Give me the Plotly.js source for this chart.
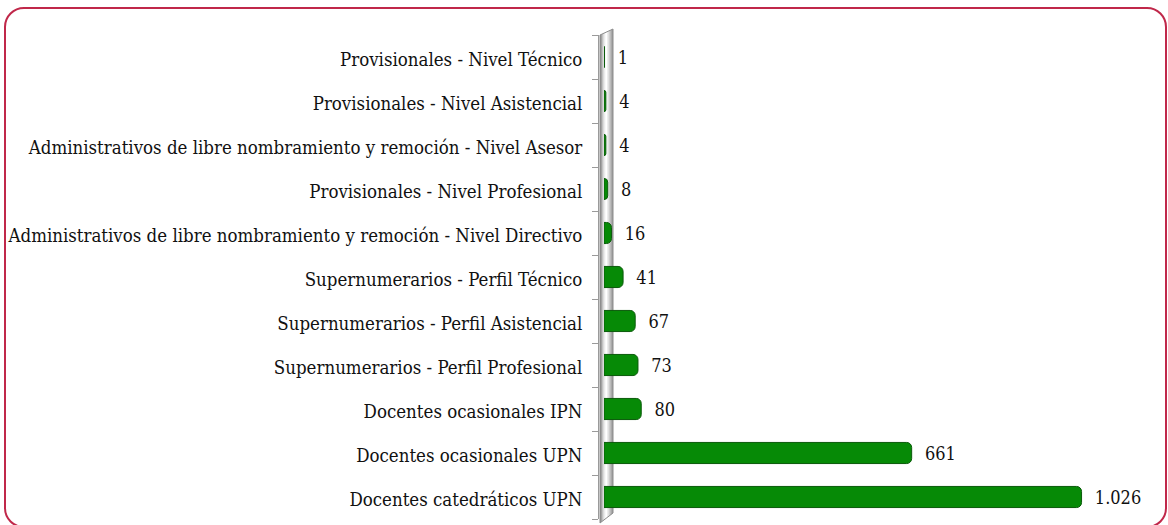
<!DOCTYPE html>
<html><head><meta charset="utf-8">
<script src="https://cdn.plot.ly/plotly-3.0.1.min.js"></script>
<style>
html,body{margin:0;padding:0;background:#fff;}
#wrap{position:relative;width:1168px;height:525px;overflow:hidden;}
#chart{position:absolute;left:0;top:0;width:1168px;height:525px;}
#frame{position:absolute;left:4px;top:7px;width:1159px;height:517px;border:2px solid #c0284a;border-radius:20px;pointer-events:none;}
</style></head>
<body><div id="wrap"><div id="chart"></div><div id="frame"></div></div>
<script>
const categories = [
  "Docentes catedráticos UPN",
  "Docentes ocasionales UPN",
  "Docentes ocasionales IPN",
  "Supernumerarios - Perfil Profesional",
  "Supernumerarios - Perfil Asistencial",
  "Supernumerarios - Perfil Técnico",
  "Administrativos de libre nombramiento y remoción - Nivel Directivo",
  "Provisionales - Nivel Profesional",
  "Administrativos de libre nombramiento y remoción - Nivel Asesor",
  "Provisionales - Nivel Asistencial",
  "Provisionales - Nivel Técnico"
];
const values = [1026, 661, 80, 73, 67, 41, 16, 8, 4, 4, 1];

const W = 1168, H = 525;
const L = 598, R = 52, T = 35, B = 6;
const pw = W - L - R, ph = H - T - B;
const px = v => v / pw, py = v => v / ph;
const FONT = '"DejaVu Serif Condensed", "DejaVu Serif", serif';

// 3D wall strips (decoration)
const wallShades = ['#8e8e8e','#c2c2c2','#ececec','#ffffff','#e0e0e0','#bcbcbc','#9c9c9c'];
const shapes = [];
const wx0 = 2, wx1 = 15, n = wallShades.length;
for (let i = 0; i < n; i++) {
  const a = wx0 + (wx1 - wx0) * i / n, b = wx0 + (wx1 - wx0) * (i + 1) / n;
  const sl = 6 / (wx1 - wx0);
  const ta = (a - wx0) * sl, tb = (b - wx0) * sl;
  const ba = -4 + (a - wx0) * (10 / 13), bb = -4 + (b - wx0) * (10 / 13);
  shapes.push({type:'path', xref:'paper', yref:'paper', layer:'below',
    path:`M ${px(a)} ${1+py(ta)} L ${px(b)} ${1+py(tb)} L ${px(b)} ${py(bb)} L ${px(a)} ${py(ba)} Z`,
    fillcolor: wallShades[i], line:{width:0}});
}
shapes.push({type:'path', xref:'paper', yref:'paper', layer:'below',
  path:`M ${px(wx0)} ${1} L ${px(wx1)} ${1+py(6)} L ${px(wx1)} ${py(6)} L ${px(wx0)} ${py(-4)} Z`,
  fillcolor:'rgba(0,0,0,0)', line:{color:'#8c8c8c', width:1}});

const trace = {
  type:'bar', orientation:'h',
  y: categories, x: values,
  width: 0.48,
  marker:{color:'#068a06', line:{color:'#0a5a0a', width:1}, cornerradius:5},
  texttemplate:'\u00a0\u00a0%{x:,}',
  textposition:'outside',
  cliponaxis:false,
  textfont:{family:FONT, size:18, color:'#111'},
  hoverinfo:'none'
};

const layout = {
  width:W, height:H,
  margin:{l:L, r:R, t:T, b:B, pad:0},
  paper_bgcolor:'#fff', plot_bgcolor:'rgba(0,0,0,0)',
  separators:',.',
  showlegend:false,
  font:{family:FONT, size:18, color:'#111'},
  xaxis:{domain:[px(6),1], range:[0,1100], visible:false, showgrid:false, zeroline:false},
  yaxis:{type:'category', anchor:'free', position:0, showline:true, linecolor:'#9a9a9a', linewidth:1,
         ticks:'outside', tickson:'boundaries', ticklen:6, tickcolor:'#9a9a9a',
         ticklabelstandoff:12, ticklabelshift:3, showgrid:false, zeroline:false, automargin:false,
         tickfont:{family:FONT, size:18.5, color:'#111'}},
  shapes: shapes
};

Plotly.newPlot('chart', [trace], layout, {displayModeBar:false, staticPlot:true});
</script></body></html>
